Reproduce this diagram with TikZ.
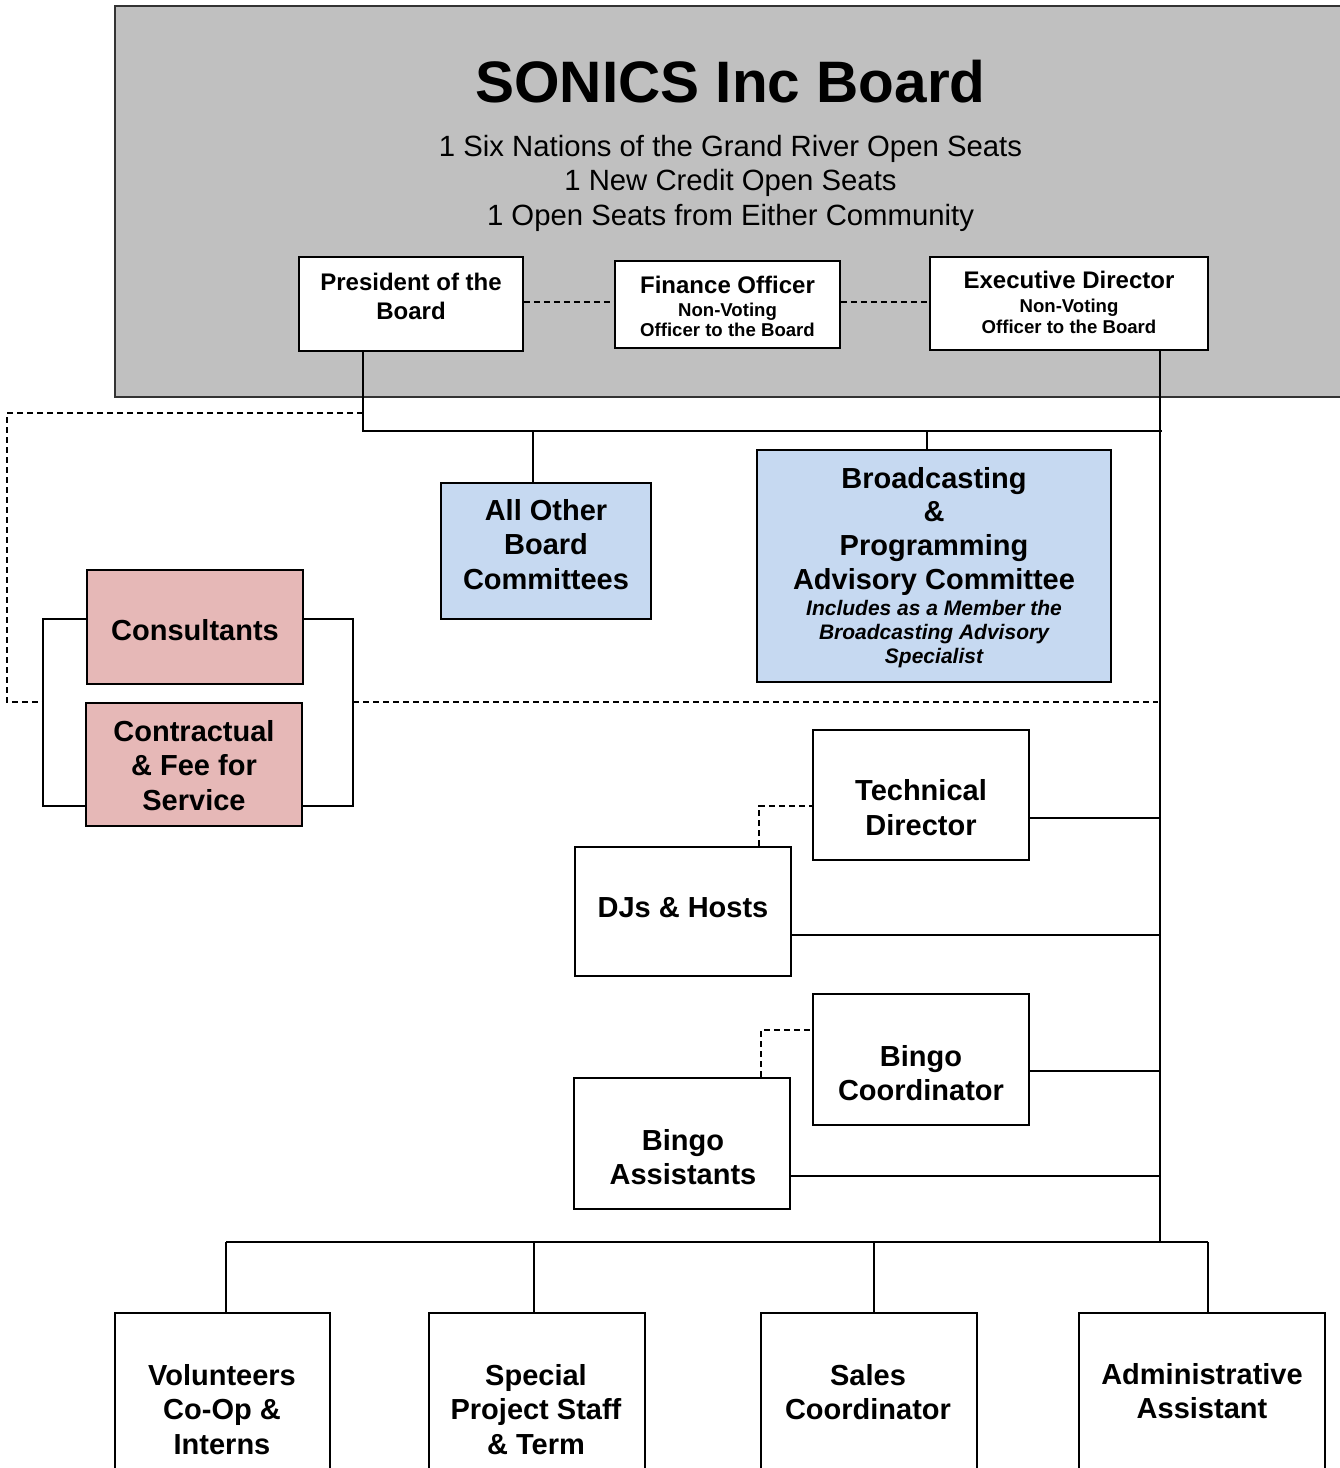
\documentclass[tikz,border=0pt]{standalone}
\usepackage{fontspec}
\setmainfont{Liberation Sans}
\usetikzlibrary{fit}
\definecolor{boardgray}{HTML}{C0C0C0}
\definecolor{combblue}{HTML}{C6D9F1}
\definecolor{conpink}{HTML}{E6B8B7}
\tikzset{
  box/.style={draw=black, line width=1.8pt, fill=white, inner sep=0pt},
  bluebox/.style={box, fill=combblue},
  pinkbox/.style={box, fill=conpink},
  conn/.style={draw=black, line width=1.6pt},
  dashconn/.style={draw=black, line width=1.5pt, dash pattern=on 6pt off 4pt},
  bigtxt/.style={font=\fontsize{29}{34.5}\selectfont\bfseries, align=center, inner sep=0pt},
  midtxt/.style={font=\fontsize{24}{29}\selectfont\bfseries, align=center, inner sep=0pt},
  smalltxt/.style={font=\fontsize{18.6}{21}\selectfont\bfseries, inner sep=0pt, anchor=base},
  itxt/.style={font=\fontsize{21}{24}\selectfont\bfseries\itshape, align=center, inner sep=0pt},
}
\begin{document}
\begin{tikzpicture}[x=1pt,y=-1pt]
\useasboundingbox (0,0) rectangle (1340,1468);
\clip (0,0) rectangle (1340,1468);
% board area
\node[draw=black!80, line width=2pt, fill=boardgray, inner sep=0pt, fit={(115,6) (1350,397)}] (board) {};
\node[font=\fontsize{58.5}{70}\selectfont\bfseries, anchor=base, inner sep=0pt] (title) at (730.5,102) {SONICS Inc Board};
\node[font=\fontsize{29.3}{34.5}\selectfont, align=center, inner sep=0pt] (seats) at (730.5,183.6)
  {\strut 1 Six Nations of the Grand River Open Seats\\1 New Credit Open Seats\\1 Open Seats from Either Community\strut};

% officer boxes
\node[box, fit={(299,257) (523,351)}] (pres) {};
\node[midtxt] (prest) at (411,298.7) {\strut President of the\\Board\strut};
\node[box, fit={(615,261) (840,348)}] (fin) {};
\node[font=\fontsize{24}{29}\selectfont\bfseries, anchor=base, inner sep=0pt] (fin1) at (727.5,293) {Finance Officer};
\node[smalltxt] (fin2) at (727.5,316) {Non-Voting};
\node[smalltxt] (fin3) at (727.5,336) {Officer to the Board};
\node[box, fit={(930,257) (1208,350)}] (exec) {};
\node[font=\fontsize{24}{29}\selectfont\bfseries, anchor=base, inner sep=0pt] (exec1) at (1069,288) {Executive Director};
\node[smalltxt] (exec2) at (1069,312) {Non-Voting};
\node[smalltxt] (exec3) at (1069,333) {Officer to the Board};

\coordinate (dy) at (0,302);
\draw[dashconn] (pres.east |- dy) -- (fin.west |- dy);
\draw[dashconn] (fin.east |- dy) -- (exec.west |- dy);

% committees
\node[bluebox, fit={(441,483) (651,619)}] (allother) {};
\node[bigtxt] (allothert) at (546,547.6) {\strut All Other\\Board\\Committees\strut};
\node[bluebox, fit={(757,450) (1111,682)}] (broad) {};
\node[bigtxt, font=\fontsize{29}{33.7}\selectfont\bfseries] (broadt) at (934,532) {\strut Broadcasting\\\&\\Programming\\Advisory Committee\strut};
\node[itxt] (broadi) at (934,634.8) {\strut Includes as a Member the\\Broadcasting Advisory\\Specialist\strut};

% consultants
\node[pinkbox, fit={(87,570) (303,684)}] (cons) {};
\node[bigtxt] (const) at (195,634) {\strut Consultants\strut};
\node[pinkbox, fit={(86,703) (302,826)}] (contr) {};
\node[bigtxt] (contrt) at (194,768.6) {\strut Contractual\\\& Fee for\\Service\strut};

% staff boxes
\node[box, fit={(813,730) (1029,860)}] (tech) {};
\node[bigtxt] (techt) at (921,811.3) {\strut Technical\\Director\strut};
\node[box, fit={(575,847) (791,976)}] (djs) {};
\node[bigtxt] (djst) at (683,911) {\strut DJs \& Hosts\strut};
\node[box, fit={(813,994) (1029,1125)}] (bcoord) {};
\node[bigtxt] (bcoordt) at (921,1076.4) {\strut Bingo\\Coordinator\strut};
\node[box, fit={(574,1078) (790,1209)}] (bassist) {};
\node[bigtxt] (bassistt) at (683,1160.4) {\strut Bingo\\Assistants\strut};

\node[box, fit={(115,1313) (330,1490)}] (vol) {};
\node[bigtxt] (volt) at (222,1412.6) {\strut Volunteers\\Co-Op \&\\Interns\strut};
\node[box, fit={(429,1313) (645,1490)}] (spec) {};
\node[bigtxt] (spect) at (536,1412.6) {\strut Special\\Project Staff\\\& Term\strut};
\node[box, fit={(761,1313) (977,1490)}] (sales) {};
\node[bigtxt] (salest) at (868,1395.4) {\strut Sales\\Coordinator\strut};
\node[box, fit={(1079,1313) (1325,1490)}] (admin) {};
\node[bigtxt] (admint) at (1202,1394.4) {\strut Administrative\\Assistant\strut};

% connectors
\coordinate (j1) at (363,431);
\coordinate (j2) at (1162,431);
\coordinate (ev) at (1160,1242);
\coordinate (a1) at (533,431);
\coordinate (b1) at (927,431);
\draw[conn] (pres.south -| j1) -- (j1) -- (j2);
\draw[conn] (exec.south -| ev) -- (ev);
\draw[conn] (a1) -- (a1 |- allother.north);
\draw[conn] (b1) -- (b1 |- broad.north);

\coordinate (t1) at (1160,818);
\coordinate (d1) at (1160,935);
\coordinate (c1) at (1160,1071);
\coordinate (s1) at (1160,1176);
\draw[conn] (tech.east |- t1) -- (t1);
\draw[conn] (djs.east |- d1) -- (d1);
\draw[conn] (bcoord.east |- c1) -- (c1);
\draw[conn] (bassist.east |- s1) -- (s1);

% bottom bus
\coordinate (bb1) at (226,1242);
\coordinate (bb2) at (534,1242);
\coordinate (bb3) at (874,1242);
\coordinate (bb4) at (1208,1242);
\draw[conn] (bb1) -- (bb4);
\draw[conn] (bb1) -- (bb1 |- vol.north);
\draw[conn] (bb2) -- (bb2 |- spec.north);
\draw[conn] (bb3) -- (bb3 |- sales.north);
\draw[conn] (bb4) -- (bb4 |- admin.north);

% brackets round consultants
\coordinate (bl1) at (43,619);
\coordinate (bl2) at (43,806);
\coordinate (br1) at (353,619);
\coordinate (br2) at (353,806);
\draw[conn] (cons.west |- bl1) -- (bl1) -- (bl2) -- (contr.west |- bl2);
\draw[conn] (cons.east |- br1) -- (br1) -- (br2) -- (contr.east |- br2);

% dashed advisory line
\coordinate (dd1) at (363,413);
\coordinate (dd2) at (7,413);
\coordinate (dd3) at (7,702);
\coordinate (dd4) at (43,702);
\coordinate (dd5) at (353,702);
\coordinate (dd6) at (1158,702);
\draw[dashconn] (dd1) -- (dd2) -- (dd3) -- (dd4);
\draw[dashconn] (dd5) -- (dd6);

% dashed links
\coordinate (tk) at (759,806);
\draw[dashconn] (djs.north -| tk) -- (tk) -- (tech.west |- tk);
\coordinate (bk) at (761,1030);
\draw[dashconn] (bassist.north -| bk) -- (bk) -- (bcoord.west |- bk);
\end{tikzpicture}
\end{document}
